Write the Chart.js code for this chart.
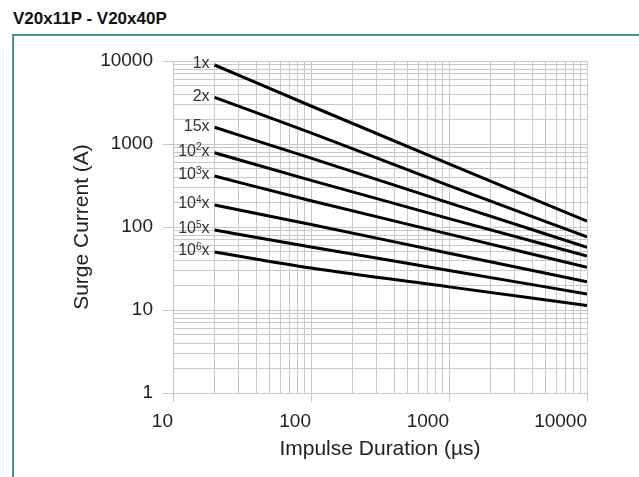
<!DOCTYPE html>
<html>
<head>
<meta charset="utf-8">
<script src="https://cdn.jsdelivr.net/npm/chart.js@4.4.1/dist/chart.umd.min.js"></script>
<style>
    html, body { margin: 0; padding: 0; background: #fff; }
    #wrap { position: relative; width: 639px; height: 477px; overflow: hidden; }
    #titulo { position: absolute; left: 13px; top: 9px; font: bold 17px "Liberation Sans", Arial, sans-serif; color: #111; }
    #marco { position: absolute; left: 12px; top: 34px; right: -4px; bottom: -4px; border-left: 2px solid #3d9e7c; border-top: 2px solid #3d9e7c; }
    #grafico { position: absolute; left: 0; top: 0; }
</style>
</head>
<body>
<div id="wrap">
    <div id="titulo">V20x11P - V20x40P</div>
    <div id="marco"></div>
    <canvas id="grafico" width="639" height="477"></canvas>
</div>
<script>
// impulse duration (µs) where each curve was read
const duraciones = [20, 100, 1000, 10000];

// surge current (A) per number of impulses
const curva1x   = [8950, 2870, 575, 118];
const curva2x   = [3650, 1360, 315, 76];
const curva15x  = [1590, 675, 195, 57];
const curva1e2x = [785, 365, 126, 44.8];
const curva1e3x = [411, 207, 82, 32.7];
const curva1e4x = [184, 107, 48.3, 21.9];
const curva1e5x = [92, 57.5, 30, 15.6];
const curva1e6x = [50, 32, 19, 11.3];

const etiquetasCurvas = ['1x', '2x', '15x', '10²x', '10³x', '10⁴x', '10⁵x', '10⁶x'];
const seriesCurvas = [curva1x, curva2x, curva15x, curva1e2x, curva1e3x, curva1e4x, curva1e5x, curva1e6x];

const ticksX = [10, 100, 1000, 10000];
const ticksY = [1, 10, 100, 1000, 10000];

const FUENTE = '"Liberation Sans", Arial, sans-serif';
const GRIS = '#c9c9c9';
const SUPER = { '²': '2', '³': '3', '⁴': '4', '⁵': '5', '⁶': '6' };

function ticksLog(min, max) {
    const out = [];
    for (let d = min; d < max; d *= 10) {
        for (let k = 1; k < 10; k++) out.push({ value: d * k });
    }
    out.push({ value: max });
    return out;
}

function esDecada(v) {
    const l = Math.log10(v);
    return Math.abs(l - Math.round(l)) < 1e-9;
}

// dibuja "10²x" con el exponente pequeño y elevado, alineado a la derecha en x
function textoConExponente(ctx, texto, x, y) {
    const m = texto.match(/^(\d+)([²³⁴⁵⁶])(x)$/);
    if (!m) {
        ctx.font = '16px ' + FUENTE;
        ctx.textAlign = 'right';
        ctx.fillText(texto, x, y);
        return;
    }
    ctx.textAlign = 'left';
    ctx.font = '16px ' + FUENTE;
    const wBase = ctx.measureText(m[1]).width;
    const wX = ctx.measureText(m[3]).width;
    ctx.font = '10px ' + FUENTE;
    const wSup = ctx.measureText(SUPER[m[2]]).width;
    let px = x - wBase - wSup - wX;
    ctx.font = '16px ' + FUENTE;
    ctx.fillText(m[1], px, y);
    px += wBase;
    ctx.font = '10px ' + FUENTE;
    ctx.fillText(SUPER[m[2]], px, y - 4);
    px += wSup;
    ctx.font = '16px ' + FUENTE;
    ctx.fillText(m[3], px, y);
}

const etiquetasLineas = {
    id: 'etiquetasLineas',
    afterDatasetsDraw(chart) {
        const ctx = chart.ctx;
        ctx.save();
        ctx.fillStyle = '#333';
        ctx.textBaseline = 'middle';
        chart.data.datasets.forEach((ds, i) => {
            const p = chart.getDatasetMeta(i).data[0];
            if (p) textoConExponente(ctx, ds.label, p.x - 5, p.y - 1);
        });
        ctx.restore();
    }
};

new Chart(document.getElementById('grafico'), {
    type: 'line',
    data: {
        datasets: seriesCurvas.map((serie, i) => ({
            label: etiquetasCurvas[i],
            data: serie.map((v, j) => ({ x: duraciones[j], y: v })),
            borderColor: '#000',
            borderWidth: 3,
            pointRadius: 0,
            fill: false,
            cubicInterpolationMode: 'monotone'
        }))
    },
    options: {
        responsive: false,
        animation: false,
        layout: { padding: { top: 61, right: 52, left: 0, bottom: 0 } },
        plugins: { legend: { display: false }, tooltip: { enabled: false } },
        scales: {
            x: {
                type: 'logarithmic',
                min: 10,
                max: 10000,
                afterBuildTicks: s => { s.ticks = ticksLog(10, 10000); },
                afterFit: s => { s.height = 84; },
                grid: {
                    color: GRIS,
                    lineWidth: 1,
                    tickLength: 9,
                    tickColor: c => (c.tick && esDecada(c.tick.value)) ? GRIS : 'rgba(0,0,0,0)'
                },
                border: { color: GRIS },
                ticks: {
                    autoSkip: false,
                    maxRotation: 0,
                    align: 'end',
                    padding: 8,
                    color: '#222',
                    font: { family: FUENTE, size: 19 },
                    callback: v => ticksX.includes(v) ? String(v) : ''
                },
                title: {
                    display: true,
                    text: 'Impulse Duration (µs)',
                    color: '#222',
                    font: { family: FUENTE, size: 21 },
                    padding: { top: 0, bottom: 15 }
                }
            },
            y: {
                type: 'logarithmic',
                min: 1,
                max: 10000,
                afterBuildTicks: s => { s.ticks = ticksLog(1, 10000); },
                afterFit: s => { s.width = 173; },
                grid: {
                    color: GRIS,
                    lineWidth: 1,
                    tickLength: 10,
                    tickColor: c => (c.tick && esDecada(c.tick.value)) ? GRIS : 'rgba(0,0,0,0)'
                },
                border: { color: GRIS },
                ticks: {
                    autoSkip: false,
                    padding: 10,
                    color: '#222',
                    font: { family: FUENTE, size: 19 },
                    callback: v => ticksY.includes(v) ? String(v) : ''
                },
                title: {
                    display: true,
                    text: 'Surge Current (A)',
                    color: '#222',
                    font: { family: FUENTE, size: 21 },
                    padding: { top: 70, bottom: 0 }
                }
            }
        }
    },
    plugins: [etiquetasLineas]
});
</script>
</body>
</html>
